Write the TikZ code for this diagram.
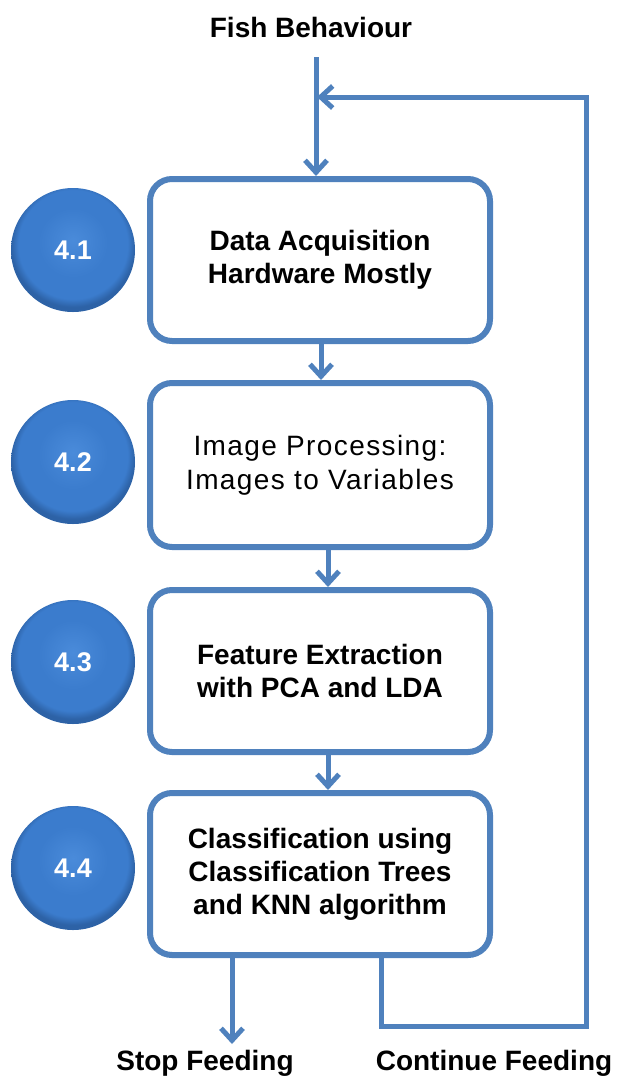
\documentclass[tikz,border=0pt]{standalone}
\usepackage{fontspec}
\setmainfont{Liberation Sans}
\newfontfamily\widereg{Liberation Sans}[LetterSpace=5]
\usetikzlibrary{arrows.meta,calc}
\definecolor{flowblue}{HTML}{4F81BD}
\definecolor{ballhi}{HTML}{4A8BDA}
\definecolor{ballmid}{HTML}{3B7CCD}
\definecolor{ballout}{HTML}{2D62A6}
\pgfdeclareradialshading{stagedisc}{\pgfpoint{0bp}{4bp}}{%
  color(0bp)=(ballhi); color(14bp)=(ballmid); color(22bp)=(ballmid);
  color(25bp)=(ballout); color(50bp)=(ballout)}
\tikzset{
  stagebox/.style={draw=flowblue, line width=6pt, rounded corners=22pt, fill=white,
    minimum width=340pt, minimum height=162pt, align=center, inner sep=0pt,
    font=\fontsize{28}{33}\selectfont\bfseries},
  flow/.style={draw=flowblue, line width=5pt,
    -{Straight Barb[length=12pt,width=22pt,line width=5pt]}},
  plainflow/.style={draw=flowblue, line width=5pt},
  caption/.style={font=\fontsize{28}{33}\selectfont\bfseries, inner sep=0pt},
  stagenum/.style={text=white, font=\fontsize{27}{30}\selectfont\bfseries, inner sep=0pt}
}
\begin{document}
\begin{tikzpicture}[x=1pt,y=-1pt]
\useasboundingbox (0,0) rectangle (618,1080);

% process stages
\node[stagebox] (acq)  at (320,260) {Data Acquisition\\Hardware Mostly};
\node[stagebox, minimum height=164pt, font=\fontsize{28}{34}\widereg] (img) at (320,465)
  {Image Processing:\\Images to Variables};
\node[stagebox] (feat) at (320,671) {Feature Extraction\\with PCA and LDA};
\node[stagebox] (cls)  at (320,874) {Classification using\\Classification Trees\\and KNN algorithm};

% numbered stage markers
\foreach \n/\y in {1/250,2/462,3/662,4/868}{
  \shade[shading=stagedisc] (73,\y) circle (62);
  \node[stagenum] (num\n) at (73,\y) {4.\n};
}

% labels
\node[caption] (fish) at (311,27) {Fish Behaviour};
\node[caption] (stop) at (205,1063) {Stop Feeding};
\node[caption] (cont) at (494,1063) {Continue Feeding};

% connectors
\coordinate (in)   at (316,57);
\coordinate (join) at (316,97);
\coordinate (stopend) at (232,1044);
\coordinate (loopbl) at (381,1026);
\coordinate (loopbr) at (586,1026);
\coordinate (looptr) at (586,97);
\draw[plainflow] (in) -- (join);
\draw[flow] (join) -- (acq.north -| join);
\draw[flow] ([xshift=1pt]acq.south) -- ([xshift=1pt]img.north);
\draw[flow] ([xshift=8pt]img.south) -- ([xshift=8pt]feat.north);
\draw[flow] ([xshift=8pt]feat.south) -- ([xshift=8pt]cls.north);
\draw[flow] (cls.south -| stopend) -- (stopend);
\draw[plainflow, line join=miter]
  (cls.south -| loopbl) -- (loopbl) -- (loopbr) -- (looptr);
\draw[flow] ([yshift=2.5pt]looptr) |- ([xshift=1pt]join);
\end{tikzpicture}
\end{document}
